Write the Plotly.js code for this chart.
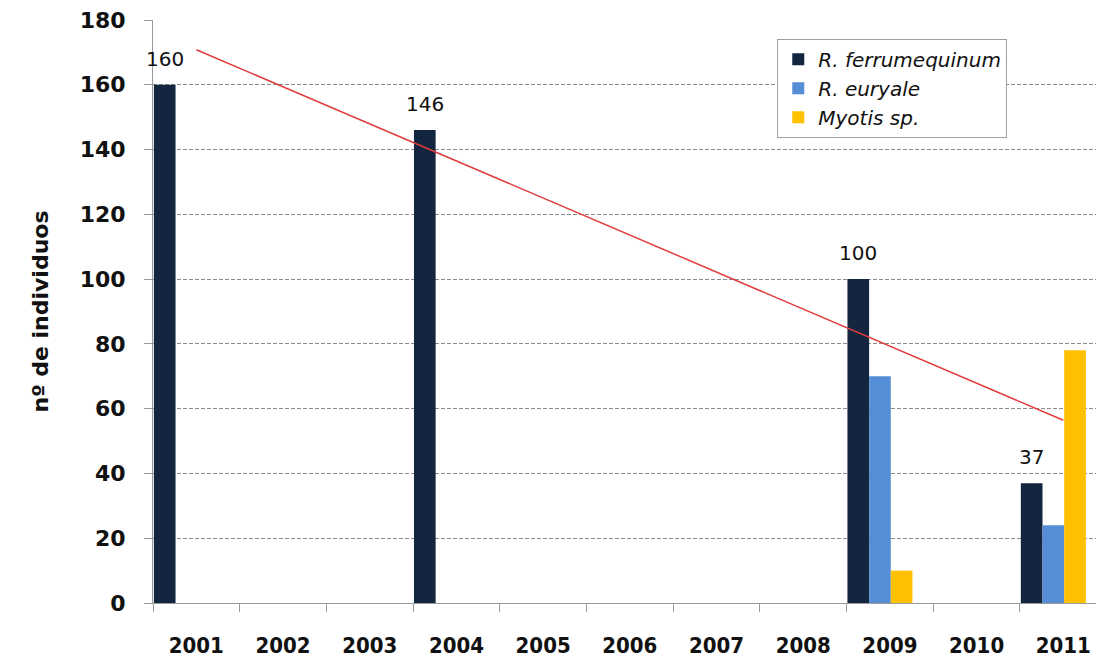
<!DOCTYPE html>
<html>
<head>
<meta charset="utf-8">
<script src="https://cdn.plot.ly/plotly-3.0.1.min.js"></script>
<style>
  html, body { margin: 0; padding: 0; background: #ffffff; }
  #chart { width: 1118px; height: 659px; }
</style>
</head>
<body>
<div id="chart"></div>
<script>
// ---- data ----
const years = ['2001','2002','2003','2004','2005','2006','2007','2008','2009','2010','2011'];
const ferrumequinum = [160, null, null, 146, null, null, null, null, 100, null, 37];
const euryale       = [null, null, null, null, null, null, null, null, 70, null, 24];
const myotis        = [null, null, null, null, null, null, null, null, 10, null, 78];
const seriesNames = ['R. ferrumequinum', 'R. euryale', 'Myotis sp.'];

// ---- helpers ----
const idx = years.map((_, i) => i);
const boundaries = idx.map(i => i - 0.5);

// linear trendline of R. ferrumequinum (least squares over the observed years)
const pts = idx.filter(i => ferrumequinum[i] !== null).map(i => [i, ferrumequinum[i]]);
const mx = pts.reduce((s, p) => s + p[0], 0) / pts.length;
const my = pts.reduce((s, p) => s + p[1], 0) / pts.length;
const sxy = pts.reduce((s, p) => s + (p[0] - mx) * (p[1] - my), 0);
const sxx = pts.reduce((s, p) => s + (p[0] - mx) * (p[0] - mx), 0);
const slope = sxy / sxx;
const intercept = my - slope * mx;
const trendX = [idx[0], idx[idx.length - 1]];
const trendY = trendX.map(x => intercept + slope * x);

const barW = 0.25;
const offsets = [-0.49, -0.24, 0.01];
const colors = ['#13253f', '#558ed5', '#ffc000'];
const seriesData = [ferrumequinum, euryale, myotis];

const traces = seriesData.map((vals, k) => ({
  type: 'bar',
  name: seriesNames[k],
  x: idx,
  y: vals,
  width: barW,
  offset: offsets[k],
  marker: { color: colors[k], line: { width: 0 } },
  hoverinfo: 'x+y'
}));

traces.push({
  type: 'scatter',
  mode: 'lines',
  x: trendX,
  y: trendY,
  line: { color: '#e03c3c', width: 1.5 },
  showlegend: false,
  hoverinfo: 'skip'
});

const annotations = idx.filter(i => ferrumequinum[i] !== null).map(i => ({
  x: i + offsets[0] + barW / 2,
  y: ferrumequinum[i],
  xref: 'x', yref: 'y',
  text: String(ferrumequinum[i]),
  showarrow: false,
  yanchor: 'bottom',
  yshift: 12,
  font: { family: 'DejaVu Sans, Verdana, sans-serif', size: 20, color: '#111111' }
}));

const layout = {
  width: 1118,
  height: 659,
  margin: { l: 153, r: 22, t: 20, b: 56 },
  paper_bgcolor: '#ffffff',
  plot_bgcolor: '#ffffff',
  barmode: 'group',
  showlegend: true,
  legend: {
    x: 0.662, y: 0.968, xanchor: 'left', yanchor: 'top',
    bgcolor: '#ffffff',
    bordercolor: '#a0a0a0', borderwidth: 1,
    font: { family: 'DejaVu Sans, Verdana, sans-serif', size: 20, style: 'italic', color: '#111111' },
    itemwidth: 30
  },
  xaxis: {
    type: 'linear',
    range: [-0.5, 10.377],
    tickmode: 'array',
    tickvals: idx,
    ticktext: years,
    ticks: '',
    ticklabelstandoff: 23,
    showgrid: false,
    zeroline: false,
    showline: true,
    linecolor: '#9a9a9a',
    linewidth: 1,
    tickfont: { family: 'DejaVu Sans Condensed, DejaVu Sans, sans-serif', size: 22, weight: 'bold', color: '#111111' },
    minor: {
      tickmode: 'array',
      tickvals: boundaries,
      ticks: 'outside',
      ticklen: 8,
      tickwidth: 1,
      tickcolor: '#9a9a9a',
      showgrid: false
    }
  },
  yaxis: {
    range: [0, 180],
    tick0: 0,
    dtick: 20,
    ticks: 'outside',
    ticklen: 8,
    tickwidth: 1,
    tickcolor: '#9a9a9a',
    ticklabelstandoff: 14,
    showline: true,
    linecolor: '#9a9a9a',
    linewidth: 1,
    showgrid: true,
    gridcolor: '#8c8c8c',
    gridwidth: 1,
    griddash: '4px,2px',
    zeroline: false,
    tickfont: { family: 'DejaVu Sans, Verdana, sans-serif', size: 22, weight: 'bold', color: '#111111' },
    title: {
      text: 'nº de individuos',
      standoff: 24,
      font: { family: 'DejaVu Sans, Verdana, sans-serif', size: 22, weight: 'bold', color: '#111111' }
    }
  },
  annotations: annotations
};

Plotly.newPlot('chart', traces, layout, { displayModeBar: false, staticPlot: true });
</script>
</body>
</html>
